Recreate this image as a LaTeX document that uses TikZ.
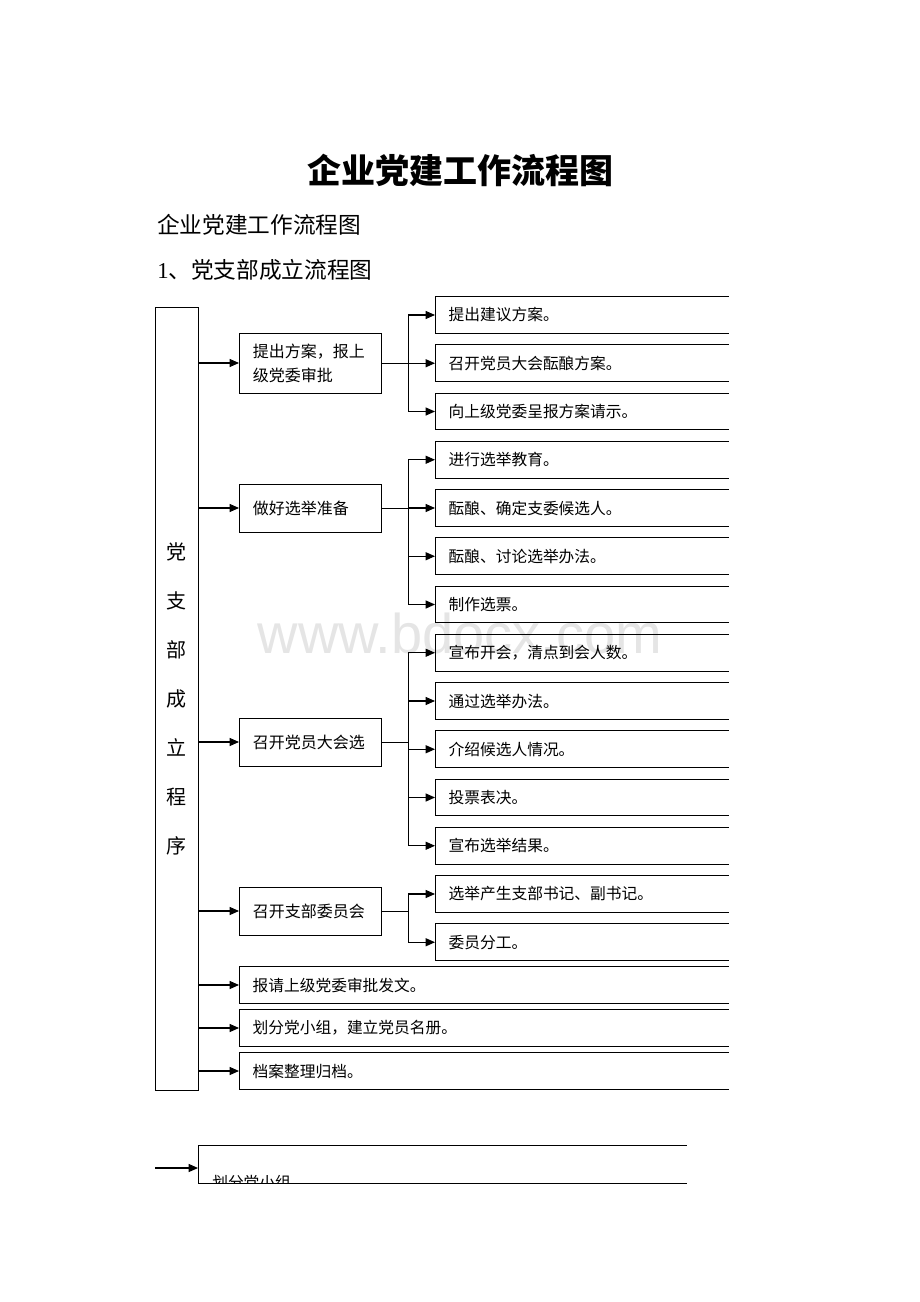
\documentclass[tikz,border=0pt]{standalone}
\usepackage{fontspec}
\setmainfont{Liberation Serif}
\newfontfamily\cjk{Noto Sans CJK SC}
\newfontfamily\wmfont{Liberation Sans}
\usetikzlibrary{arrows.meta}

\tikzset{
  arr/.style={-{Triangle[length=7pt,width=6pt]}, line width=0.8pt},
  item/.style={anchor=west, inner xsep=10pt, inner ysep=0pt, text width=199.75pt,
    minimum height=27pt, align=left, font=\cjk\fontsize{11.8}{14}\selectfont},
  wide/.style={item, text width=346.75pt},
  stage/.style={draw, line width=0.75pt, anchor=west, inner xsep=10pt, inner ysep=0pt,
    text width=86.5pt, minimum height=36pt, align=left, font=\cjk\fontsize{12}{18}\selectfont},
}

\begin{document}
\begin{tikzpicture}[x=0.75pt,y=-0.75pt]
\useasboundingbox (0,0) rectangle (920,1302);

% watermark
\node[text=black!10, font=\wmfont\fontsize{42}{50}\selectfont] (wm) at (460,633) {www.bdocx.com};

% headings
\node[font=\cjk\bfseries\fontsize{25.5}{30}\selectfont] (title) at (460,170) {企业党建工作流程图};
\node[anchor=west, inner sep=0pt, font=\cjk\fontsize{17}{20}\selectfont] (sub) at (157,225) {企业党建工作流程图};
\node[anchor=west, inner sep=0pt, font=\cjk\fontsize{17}{20}\selectfont] (sec) at (157,270) {{\rmfamily 1}、党支部成立流程图};

% left column
\node[draw, line width=0.75pt, minimum width=32.25pt, minimum height=587.25pt, inner sep=0pt,
  align=center, font=\cjk\fontsize{15}{36.75}\selectfont] (main) at (176.5,698.5)
  {党\\支\\部\\成\\立\\程\\序};

% stages
\node[stage, minimum height=45pt] (s1) at (239,363) {提出方案，报上\\级党委审批};
\node[stage] (s2) at (239,508) {做好选举准备};
\node[stage] (s3) at (239,742) {召开党员大会选};
\node[stage] (s4) at (239,911) {召开支部委员会};

% steps
\foreach \t [count=\i] in {提出建议方案。, 召开党员大会酝酿方案。, 向上级党委呈报方案请示。,
    进行选举教育。, 酝酿、确定支委候选人。, 酝酿、讨论选举办法。, 制作选票。,
    宣布开会，清点到会人数。, 通过选举办法。, 介绍候选人情况。, 投票表决。, 宣布选举结果。,
    选举产生支部书记、副书记。, 委员分工。}
  \node[item] (r\i) at (435,{315+48.25*(\i-1)}) {\t};

\node[wide] (f1) at (239,985) {报请上级党委审批发文。};
\node[wide] (f2) at (239,1028) {划分党小组，建立党员名册。};
\node[wide] (f3) at (239,1071) {档案整理归档。};

% open boxes (cut at the right)
\foreach \n in {r1,r2,r3,r4,r5,r6,r7,r8,r9,r10,r11,r12,r13,r14,f1,f2,f3}
  \draw[line width=0.75pt] (\n.north east) -- (\n.north west) -- (\n.south west) -- (\n.south east);

% junctions
\coordinate (j1) at (408,363);
\coordinate (j2) at (408,508);
\coordinate (j3) at (408,742);
\coordinate (j4) at (408,911);

\draw[line width=0.75pt] (s1.east) -- (j1);
\draw[line width=0.75pt] (s2.east) -- (j2);
\draw[line width=0.75pt] (s3.east) -- (j3);
\draw[line width=0.75pt] (s4.east) -- (j4);

\draw[line width=0.75pt] (j1 |- r1.west) -- (j1 |- r3.west);
\draw[line width=0.75pt] (j2 |- r4.west) -- (j2 |- r7.west);
\draw[line width=0.75pt] (j3 |- r8.west) -- (j3 |- r12.west);
\draw[line width=0.75pt] (j4 |- r13.west) -- (j4 |- r14.west);

\foreach \i in {1,2,3} \draw[arr] (j1 |- r\i.west) -- (r\i.west);
\foreach \i in {4,5,6,7} \draw[arr] (j2 |- r\i.west) -- (r\i.west);
\foreach \i in {8,9,10,11,12} \draw[arr] (j3 |- r\i.west) -- (r\i.west);
\foreach \i in {13,14} \draw[arr] (j4 |- r\i.west) -- (r\i.west);

\foreach \n in {s1,s2,s3,s4,f1,f2,f3} \draw[arr] (main.east |- \n.west) -- (\n.west);

% next page, cut off
\node[item, text width=346pt, minimum height=27.75pt] (g1) at (198,1164.5) {};
\draw[line width=0.75pt] (g1.north east) -- (g1.north west) -- (g1.south west) -- (g1.south east);
\begin{scope}
  \clip (g1.north west) rectangle (g1.south east);
  \node[anchor=west, inner sep=0pt, font=\cjk\fontsize{11.8}{14}\selectfont] (g1t) at (212,1183) {划分党小组};
\end{scope}
\coordinate (tail) at (155,1168);
\draw[arr] (tail) -- (g1.west |- tail);

\end{tikzpicture}
\end{document}
